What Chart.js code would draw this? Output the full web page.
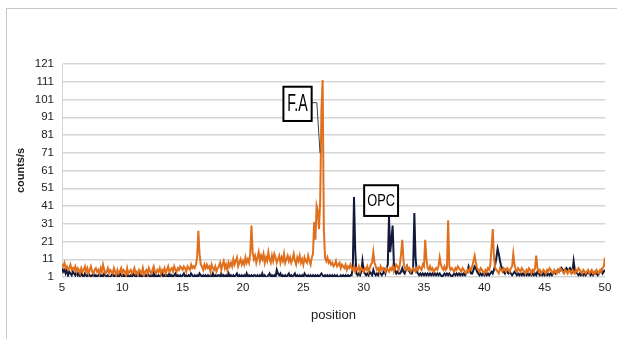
<!DOCTYPE html>
<html>
<head>
<meta charset="utf-8">
<script src="https://cdn.jsdelivr.net/npm/chart.js@4.4.1/dist/chart.umd.min.js"></script>
<style>
  html, body { margin: 0; padding: 0; background: #fff; }
  #wrap { position: relative; width: 617px; height: 339px; overflow: hidden; }
  #frame { position: absolute; left: 6px; top: 8px; right: -2px; bottom: -2px;
           border-left: 1px solid #c8c8c8; border-top: 1px solid #c8c8c8; }
  #chart { position: absolute; left: 0; top: 0; }
</style>
</head>
<body>
<div id="wrap">
  <div id="frame"></div>
  <canvas id="chart" width="617" height="339"></canvas>
</div>
<script>
// ---- data (step 0.1 deg, one row per degree) ----
const xStart = 5, xStep = 0.1;
const xTicks = [5, 10, 15, 20, 25, 30, 35, 40, 45, 50];
const yTicks = [1, 11, 21, 31, 41, 51, 61, 71, 81, 91, 101, 111, 121];

// F.A (orange)
const faCounts = [
  8,7,9,6,7,5,6,8,5,6,
  5,7,4,6,5,3,6,4,5,7,
  4,6,3,5,7,4,3,5,6,4,
  5,3,6,4,8,5,3,4,6,3,
  5,4,3,6,4,2,5,3,4,6,
  3,5,4,2,6,3,4,5,3,4,
  6,3,4,2,5,4,3,6,2,4,
  5,3,6,4,3,5,7,4,3,5,
  4,6,3,5,4,6,3,5,7,4,
  5,6,4,7,5,4,6,5,7,6,
  5,7,6,4,7,6,5,8,6,7,
  6,8,12,27,14,8,7,5,8,6,
  8,6,7,4,8,6,5,7,4,6,
  7,9,5,8,10,6,8,5,9,7,
  9,7,11,8,10,12,7,9,11,8,
  10,8,12,9,11,9,14,30,15,11,
  13,9,12,15,10,13,11,14,9,12,
  10,15,11,9,13,10,14,12,9,11,
  13,9,12,10,14,9,11,13,10,12,
  9,11,14,10,8,12,10,13,9,11,
  8,12,10,9,13,10,8,12,14,32,
  22,41,38,28,45,95,112,28,12,10,
  12,9,10,8,9,7,8,10,7,8,
  9,6,8,7,6,8,5,7,6,8,
  6,5,7,4,6,5,7,4,6,5,
  4,6,5,7,4,6,8,9,15,9,
  7,5,6,4,7,5,6,5,4,6,
  5,4,6,5,7,4,6,8,7,5,
  8,14,22,10,6,5,7,5,6,4,
  5,6,5,4,6,5,7,6,5,8,
  7,22,11,6,5,7,5,6,4,5,
  6,5,7,12,8,6,5,7,5,6,
  33,7,5,6,5,4,6,5,7,6,
  5,4,6,5,4,3,5,4,6,5,
  7,10,13,9,6,5,4,6,5,4,
  3,5,4,6,5,8,18,28,12,6,
  5,4,3,6,5,4,6,5,4,6,
  5,4,6,7,14,8,5,4,6,5,
  4,6,5,4,3,5,4,6,5,3,
  5,4,6,13,6,4,5,3,4,5,
  4,3,5,4,6,5,4,3,5,4,
  3,5,4,6,5,4,3,5,4,3,
  5,4,3,5,4,3,5,4,6,5,
  4,3,5,4,3,4,5,3,4,5,
  3,4,3,5,4,3,5,4,6,7,
  12
];

// OPC (navy)
const opcCounts = [
  6,4,5,3,5,2,4,3,2,4,
  3,2,4,2,3,1,3,2,1,3,
  2,1,3,2,1,2,3,1,2,1,
  2,3,1,2,1,3,2,1,2,1,
  1,2,3,1,2,1,2,1,3,2,
  1,2,1,3,1,2,1,2,1,3,
  2,1,2,1,3,1,2,1,1,2,
  1,3,2,1,2,1,3,1,2,1,
  2,1,2,3,1,2,1,2,1,3,
  1,2,1,2,3,1,2,1,2,1,
  2,3,1,2,1,2,1,3,2,1,
  2,1,2,1,3,2,1,2,1,2,
  1,2,1,2,1,3,1,2,1,2,
  2,1,3,1,2,1,2,1,3,1,
  2,1,2,1,2,3,1,2,1,2,
  1,2,1,3,1,2,1,2,1,2,
  2,1,2,1,2,1,3,1,2,1,
  1,2,3,1,2,1,2,1,5,3,
  2,3,1,2,1,2,1,2,3,1,
  2,1,2,3,1,2,1,2,1,2,
  1,3,2,1,2,1,2,1,2,1,
  2,1,2,1,2,3,2,1,2,1,
  2,1,2,1,2,1,2,1,2,1,
  1,2,1,2,1,2,1,2,1,2,
  2,6,46,16,3,2,3,2,4,10,
  4,3,2,3,2,4,3,2,5,3,
  2,3,2,4,3,2,3,5,3,6,
  8,35,15,22,30,9,5,3,4,3,
  3,4,6,4,3,5,7,5,4,3,
  3,6,37,12,4,3,2,3,2,3,
  2,3,2,3,2,3,2,3,2,3,
  2,3,2,3,2,1,2,3,2,3,
  2,3,2,1,2,3,2,3,2,3,
  2,3,2,3,2,3,4,7,5,3,
  3,5,7,6,4,3,2,3,2,3,
  2,3,2,3,2,3,4,3,5,8,
  12,17,14,10,7,5,4,3,5,4,
  3,4,3,2,3,4,3,2,3,2,
  3,2,3,2,3,2,3,2,3,2,
  3,2,3,2,4,3,2,3,2,3,
  2,3,2,3,2,3,2,3,4,3,
  4,5,4,5,6,5,4,5,6,5,
  5,6,5,4,10,5,4,3,2,3,
  2,3,2,3,2,3,4,3,2,3,
  2,3,4,3,2,3,4,5,3,4,
  5
];

// callout labels, placed in data units
const callouts = [
  { text: 'F.A', box: [23.35, 108.2, 25.69, 88.9], size: 23, squeeze: 0.62,
    leader: [[25.69, 99.2], [26.12, 99.2], [26.38, 71]] },
  { text: 'OPC', box: [30.04, 52.7, 32.85, 35.4], size: 16, squeeze: 0.8,
    leader: [[32.03, 35.4], [32.08, 35]] }
];

const toPoints = (arr) => arr.map((v, i) => ({ x: +(xStart + i * xStep).toFixed(1), y: v }));

const calloutPlugin = {
  id: 'callouts',
  afterDatasetsDraw(chart) {
    const { ctx, scales: { x, y } } = chart;
    ctx.save();
    callouts.forEach(c => {
      // leader line
      ctx.strokeStyle = '#404040';
      ctx.lineWidth = 1;
      ctx.beginPath();
      c.leader.forEach((p, i) => {
        const px = x.getPixelForValue(p[0]), py = y.getPixelForValue(p[1]);
        i ? ctx.lineTo(px, py) : ctx.moveTo(px, py);
      });
      ctx.stroke();
      // box
      const l = x.getPixelForValue(c.box[0]), t = y.getPixelForValue(c.box[1]);
      const r = x.getPixelForValue(c.box[2]), b = y.getPixelForValue(c.box[3]);
      ctx.fillStyle = '#fff';
      ctx.fillRect(l, t, r - l, b - t);
      ctx.strokeStyle = '#000';
      ctx.lineWidth = 2;
      ctx.strokeRect(l, t, r - l, b - t);
      // text, squeezed horizontally like the original
      ctx.save();
      ctx.translate((l + r) / 2, (t + b) / 2 + 1);
      ctx.scale(c.squeeze, 1);
      ctx.fillStyle = '#000';
      ctx.font = c.size + 'px "Liberation Sans", Arial, sans-serif';
      ctx.textAlign = 'center';
      ctx.textBaseline = 'middle';
      ctx.fillText(c.text, 0, 0);
      ctx.restore();
    });
    ctx.restore();
  }
};

const tickFont = { family: '"Liberation Sans Narrow", "Liberation Sans", Arial, sans-serif', size: 11.5 };

new Chart(document.getElementById('chart'), {
  type: 'line',
  data: {
    datasets: [
      { label: 'F.A', data: toPoints(faCounts), borderColor: '#E0701E', borderWidth: 2,
        pointRadius: 0, tension: 0 },
      { label: 'OPC', data: toPoints(opcCounts), borderColor: '#13193a', borderWidth: 2,
        pointRadius: 0, tension: 0 }
    ]
  },
  options: {
    responsive: false,
    animation: false,
    layout: { padding: { left: 0, top: 64, right: 12, bottom: 0 } },
    plugins: { legend: { display: false }, tooltip: { enabled: false } },
    scales: {
      x: {
        type: 'linear', min: 5, max: 50,
        afterBuildTicks: s => { s.ticks = xTicks.map(v => ({ value: v })); },
        afterFit: s => { s.height = 62; },
        grid: { display: false, drawTicks: false },
        border: { display: false },
        ticks: { color: '#222', font: tickFont, padding: 4, maxRotation: 0, autoSkip: false },
        title: { display: true, text: 'position', color: '#222',
                 font: { family: '"Liberation Sans Narrow", "Liberation Sans", Arial, sans-serif', size: 13 },
                 padding: { top: 0, bottom: 16 } }
      },
      y: {
        min: 1, max: 121,
        afterBuildTicks: s => { s.ticks = yTicks.map(v => ({ value: v })); },
        afterFit: s => { s.width = 62; },
        grid: { color: '#d6d6d6', lineWidth: 1.5, drawTicks: false },
        border: { display: true, color: '#d6d6d6', width: 1 },
        ticks: { color: '#222', font: tickFont, padding: 8, autoSkip: false },
        title: { display: true, text: 'counts/s', color: '#222',
                 font: { family: '"Liberation Sans", Arial, sans-serif', size: 11, weight: 'bold' },
                 padding: { top: 14, bottom: 0 } }
      }
    }
  },
  plugins: [calloutPlugin]
});
</script>
</body>
</html>
